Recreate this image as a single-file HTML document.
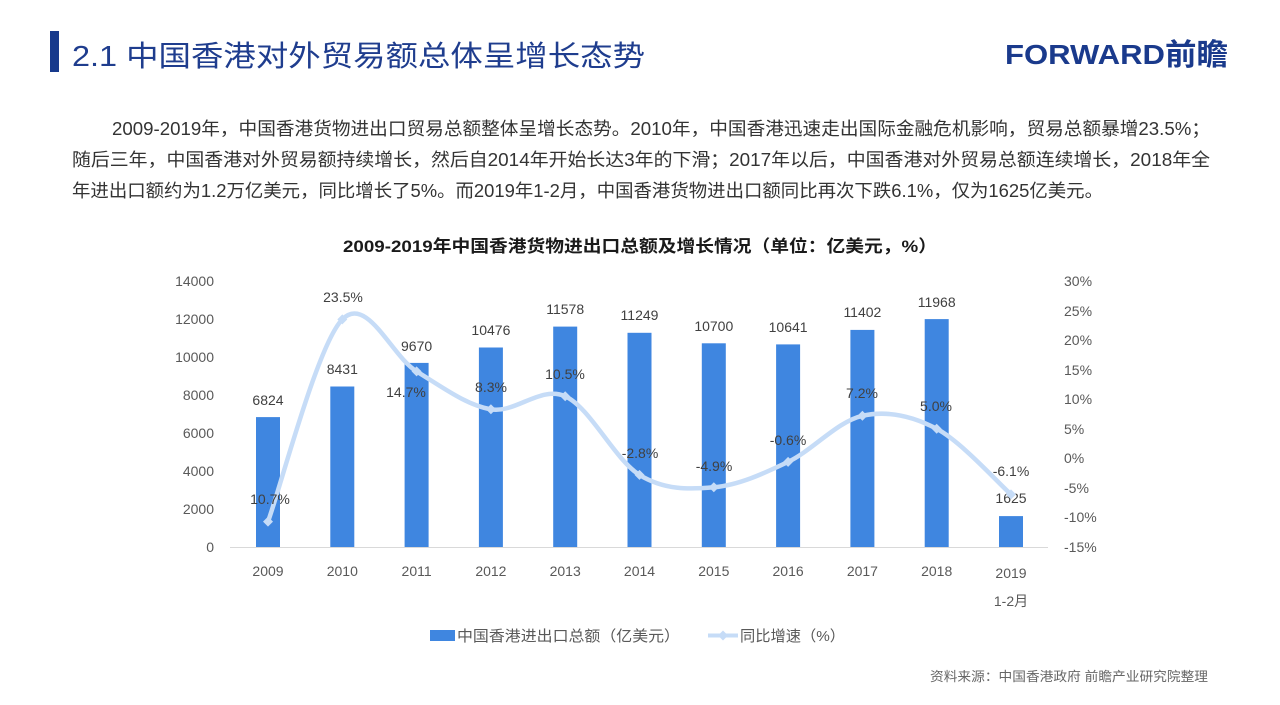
<!DOCTYPE html>
<html>
<head>
<meta charset="utf-8">
<style>
html,body{margin:0;padding:0;background:#fff;}
svg{display:block;}
text{font-family:"Liberation Sans","Noto Sans CJK SC",sans-serif;}
</style>
</head>
<body>
<svg width="1280" height="705" viewBox="0 0 1280 705" xmlns="http://www.w3.org/2000/svg">
<rect width="1280" height="705" fill="#fff"/>

<!-- Heading -->
<rect x="50" y="31" width="9" height="41" fill="#173a8c"/>
<text x="72" y="66" font-size="29" fill="#1f3d8e" textLength="573" lengthAdjust="spacingAndGlyphs">2.1 中国香港对外贸易额总体呈增长态势</text>

<!-- Logo -->
<text x="1005" y="64" font-size="28" font-weight="bold" fill="#1a3a8c" textLength="160" lengthAdjust="spacingAndGlyphs">FORWARD</text>
<text x="1165" y="65" font-size="30" font-weight="bold" fill="#1a3a8c" textLength="63" lengthAdjust="spacingAndGlyphs">前瞻</text>

<!-- Paragraph -->
<g font-size="18" fill="#333">
<text x="112" y="135" textLength="1098" lengthAdjust="spacingAndGlyphs">2009-2019年，中国香港货物进出口贸易总额整体呈增长态势。2010年，中国香港迅速走出国际金融危机影响，贸易总额暴增23.5%；</text>
<text x="72" y="166" textLength="1138" lengthAdjust="spacingAndGlyphs">随后三年，中国香港对外贸易额持续增长，然后自2014年开始长达3年的下滑；2017年以后，中国香港对外贸易总额连续增长，2018年全</text>
<text x="72" y="197" textLength="1031" lengthAdjust="spacingAndGlyphs">年进出口额约为1.2万亿美元，同比增长了5%。而2019年1-2月，中国香港货物进出口额同比再次下跌6.1%，仅为1625亿美元。</text>
</g>

<!-- Chart title -->
<text x="343" y="252" font-size="17" font-weight="bold" fill="#1a1a1a" textLength="594" lengthAdjust="spacingAndGlyphs">2009-2019年中国香港货物进出口总额及增长情况（单位：亿美元，%）</text>

<!-- Left axis labels -->
<g font-size="14" fill="#595959" text-anchor="end">
<text x="214" y="286">14000</text>
<text x="214" y="324">12000</text>
<text x="214" y="362">10000</text>
<text x="214" y="400">8000</text>
<text x="214" y="438">6000</text>
<text x="214" y="476">4000</text>
<text x="214" y="514">2000</text>
<text x="214" y="552">0</text>
</g>

<!-- Right axis labels -->
<g font-size="14" fill="#595959">
<text x="1064" y="286">30%</text>
<text x="1064" y="316">25%</text>
<text x="1064" y="345">20%</text>
<text x="1064" y="375">15%</text>
<text x="1064" y="404">10%</text>
<text x="1064" y="434">5%</text>
<text x="1064" y="463">0%</text>
<text x="1064" y="493">-5%</text>
<text x="1064" y="522">-10%</text>
<text x="1064" y="552">-15%</text>
</g>

<!-- Axis line -->
<line x1="230" y1="547.5" x2="1048" y2="547.5" stroke="#d9d9d9" stroke-width="1"/>

<!-- Bars -->
<g fill="#3f86e0">
<rect x="256" y="417.1" width="24" height="129.9"/>
<rect x="330.3" y="386.5" width="24" height="160.5"/>
<rect x="404.6" y="362.9" width="24" height="184.1"/>
<rect x="478.9" y="347.5" width="24" height="199.5"/>
<rect x="553.2" y="326.6" width="24" height="220.4"/>
<rect x="627.5" y="332.8" width="24" height="214.2"/>
<rect x="701.8" y="343.3" width="24" height="203.7"/>
<rect x="776.1" y="344.4" width="24" height="202.6"/>
<rect x="850.4" y="329.9" width="24" height="217.1"/>
<rect x="924.7" y="319.1" width="24" height="227.9"/>
<rect x="999" y="516.1" width="24" height="30.9"/>
</g>

<!-- Bar labels -->
<g font-size="14" fill="#404040" text-anchor="middle">
<text x="268" y="405">6824</text>
<text x="342.3" y="374">8431</text>
<text x="416.6" y="351">9670</text>
<text x="490.9" y="335">10476</text>
<text x="565.2" y="314">11578</text>
<text x="639.5" y="320">11249</text>
<text x="713.8" y="331">10700</text>
<text x="788.1" y="332">10641</text>
<text x="862.4" y="317">11402</text>
<text x="936.7" y="307">11968</text>
<text x="1011" y="503">1625</text>
</g>

<!-- Line -->
<path d="M268,521.6 C280.4,487.9 317.5,344.4 342.3,319.4 C367.1,294.4 391.8,356.4 416.6,371.4 C441.4,386.4 466.1,405.15 490.9,409.3 C515.7,413.45 540.4,385.4 565.2,396.3 C590,407.2 614.7,459.7 639.5,474.9 C664.3,490.1 689,489.5 713.8,487.3 C738.6,485.1 763.3,473.8 788.1,461.9 C812.9,450 837.6,421.3 862.4,415.8 C887.2,410.3 911.9,415.7 936.7,428.8 C961.5,441.9 998.6,483.5 1011,494.4" fill="none" stroke="#c6dcf7" stroke-width="4.5" stroke-linecap="round"/>
<g fill="#c6dcf7">
<polygon points="268,516.6 273,521.6 268,526.6 263,521.6"/>
<polygon points="342.3,314.4 347.3,319.4 342.3,324.4 337.3,319.4"/>
<polygon points="416.6,366.4 421.6,371.4 416.6,376.4 411.6,371.4"/>
<polygon points="490.9,404.3 495.9,409.3 490.9,414.3 485.9,409.3"/>
<polygon points="565.2,391.3 570.2,396.3 565.2,401.3 560.2,396.3"/>
<polygon points="639.5,469.9 644.5,474.9 639.5,479.9 634.5,474.9"/>
<polygon points="713.8,482.3 718.8,487.3 713.8,492.3 708.8,487.3"/>
<polygon points="788.1,456.9 793.1,461.9 788.1,466.9 783.1,461.9"/>
<polygon points="862.4,410.8 867.4,415.8 862.4,420.8 857.4,415.8"/>
<polygon points="936.7,423.8 941.7,428.8 936.7,433.8 931.7,428.8"/>
<polygon points="1011,489.4 1016,494.4 1011,499.4 1006,494.4"/>
</g>

<!-- Line labels -->
<g font-size="14" fill="#404040" text-anchor="middle">
<text x="270" y="504">10.7%</text>
<text x="343" y="302">23.5%</text>
<text x="406" y="397">14.7%</text>
<text x="491" y="392">8.3%</text>
<text x="565" y="379">10.5%</text>
<text x="640" y="458">-2.8%</text>
<text x="714" y="471">-4.9%</text>
<text x="788" y="445">-0.6%</text>
<text x="862" y="398">7.2%</text>
<text x="936" y="411">5.0%</text>
<text x="1011" y="476">-6.1%</text>
</g>

<!-- Category labels -->
<g font-size="14" fill="#595959" text-anchor="middle">
<text x="268" y="576">2009</text>
<text x="342.3" y="576">2010</text>
<text x="416.6" y="576">2011</text>
<text x="490.9" y="576">2012</text>
<text x="565.2" y="576">2013</text>
<text x="639.5" y="576">2014</text>
<text x="713.8" y="576">2015</text>
<text x="788.1" y="576">2016</text>
<text x="862.4" y="576">2017</text>
<text x="936.7" y="576">2018</text>
<text x="1011" y="578">2019</text>
<text x="1011" y="606">1-2月</text>
</g>

<!-- Legend -->
<rect x="430" y="630" width="25" height="11" fill="#3f86e0"/>
<text x="457" y="641" font-size="15" fill="#595959" textLength="223" lengthAdjust="spacingAndGlyphs">中国香港进出口总额（亿美元）</text>
<line x1="708" y1="635.5" x2="738" y2="635.5" stroke="#c6dcf7" stroke-width="4"/>
<polygon points="723,630.5 728,635.5 723,640.5 718,635.5" fill="#c6dcf7"/>
<text x="740" y="641" font-size="15" fill="#595959" textLength="105" lengthAdjust="spacingAndGlyphs">同比增速（%）</text>

<!-- Source -->
<text x="930" y="681" font-size="13" fill="#666" textLength="278" lengthAdjust="spacingAndGlyphs">资料来源：中国香港政府  前瞻产业研究院整理</text>
</svg>
</body>
</html>
